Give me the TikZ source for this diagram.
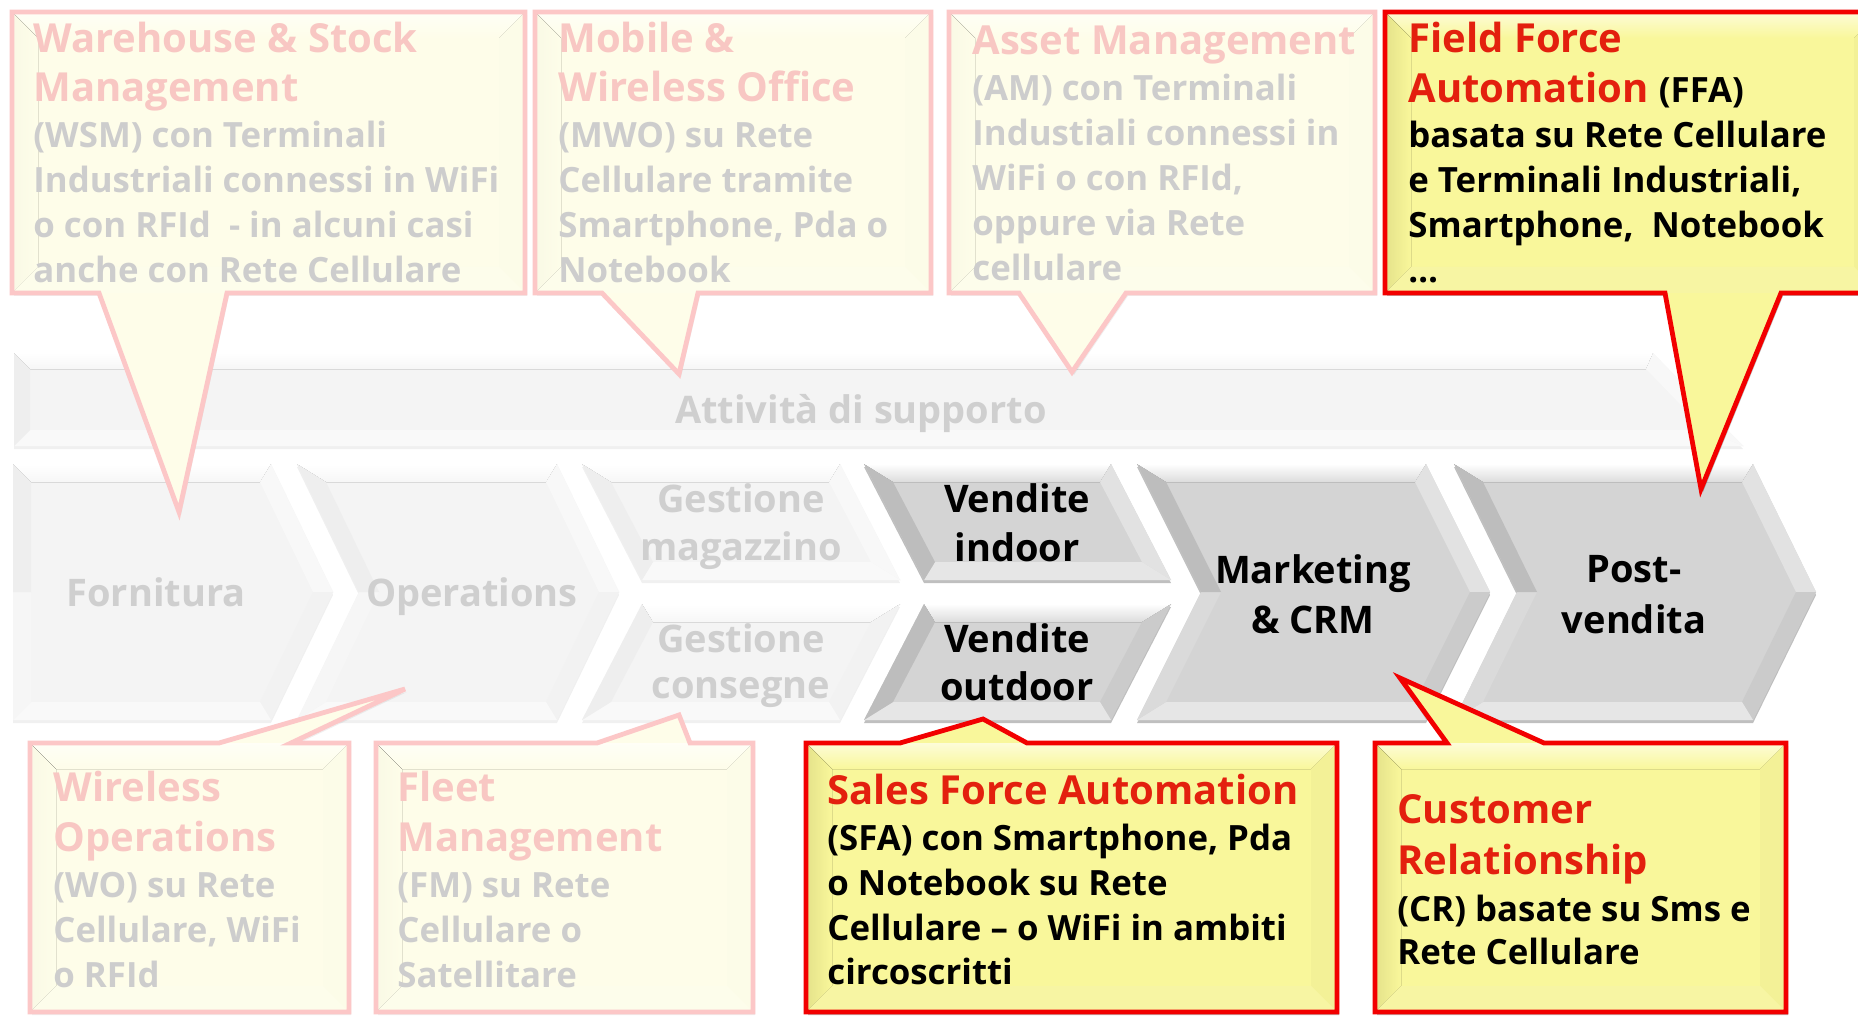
\documentclass[tikz,border=0pt]{standalone}
\usepackage{fontspec}
\setmainfont{Open Sans}
\usetikzlibrary{calc}
\newcommand\bodyf{\fontsize{17.4}{20}\selectfont\bfseries}
\newcommand\ttlf{\fontsize{20}{24}\selectfont\bfseries}
\newcommand\chf{\fontsize{19}{24}\selectfont\bfseries}
% chevron palette (strong)
\definecolor{sBase}{HTML}{D4D4D4}
\definecolor{sTop}{HTML}{DCDCDC}
\definecolor{sUL}{HTML}{BDBDBD}
\definecolor{sLL}{HTML}{DADADA}
\definecolor{sUR}{HTML}{E2E2E2}
\definecolor{sLR}{HTML}{CBCBCB}
\definecolor{sBot}{HTML}{E6E6E6}
% faded chevron palette
\colorlet{fBase}{sBase!25!white}
\colorlet{fTop}{sTop!25!white}
\colorlet{fUL}{sUL!25!white}
\colorlet{fLL}{sLL!25!white}
\colorlet{fUR}{sUR!25!white}
\colorlet{fLR}{sLR!25!white}
\colorlet{fBot}{sBot!25!white}
\definecolor{fChTxt}{HTML}{CFCFCF}
% callout palette
\definecolor{sYel}{HTML}{F9F79B}
\definecolor{sYelL}{HTML}{FDFCD8}
\definecolor{sYelD}{HTML}{E4E28A}
\definecolor{sYelR}{HTML}{F3F197}
\definecolor{sYelB}{HTML}{F7F5A3}
\definecolor{sBord}{HTML}{F20000}
\definecolor{sTtl}{HTML}{E3200E}
\colorlet{fYel}{sYel!22!white}
\colorlet{fYelL}{sYelL!22!white}
\colorlet{fYelD}{sYelD!22!white}
\colorlet{fYelR}{sYelR!22!white}
\colorlet{fYelB}{sYelB!22!white}
\colorlet{fBord}{sBord!22!white}
\colorlet{fTtl}{sTtl!25!white}
\definecolor{fBody}{HTML}{CDCDCD}
\tikzset{
  sT/.style={text=sTtl,font=\ttlf},
  sB/.style={text=black,font=\bodyf},
  fT/.style={text=fTtl,font=\ttlf},
  fB/.style={text=fBody,font=\bodyf},
  chS/.style={text=black,font=\chf,anchor=base,inner sep=0pt},
  chF/.style={text=fChTxt,font=\chf,anchor=base,inner sep=0pt},
  sShadow/.style={fill=black,opacity=.25},
  fShadow/.style={fill=black,opacity=.06},
}
\newcommand\txl[5]{\node[#4,anchor=base west,inner sep=0pt] (#1) at (#2,#3) {#5};}
% full chevron / home plate: name, L, N, R, P, palette
\newcommand\chev[6]{%
  \pgfmathsetmacro\cTi{#2+18+11*(#3>#2)}%
  \pgfmathsetmacro\cNi{#3+18+2*(#3>#2)}%
  \pgfmathsetmacro\cRi{#4-11}%
  \pgfmathsetmacro\cPi{#5-20}%
  \path (#2,464) coordinate (#1-tl) (#4,464) coordinate (#1-tr) (#5,592) coordinate (#1-p)
        (#4,720) coordinate (#1-br) (#2,720) coordinate (#1-bl) (#3,592) coordinate (#1-n)
        (\cTi,482) coordinate (#1-tli) (\cRi,482) coordinate (#1-tri) (\cPi,592) coordinate (#1-pi)
        (\cRi,702) coordinate (#1-bri) (\cTi,702) coordinate (#1-bli) (\cNi,592) coordinate (#1-ni);
  \fill[#6Shadow,transform canvas={yshift=-1.5pt}] (#1-tl)--(#1-tr)--(#1-p)--(#1-br)--(#1-bl)--(#1-n)--cycle;
  \fill[#6Base] (#1-tl)--(#1-tr)--(#1-p)--(#1-br)--(#1-bl)--(#1-n)--cycle;
  \fill[top color=white,bottom color=#6Top] (#1-tl)--(#1-tr)--(#1-tri)--(#1-tli)--cycle;
  \fill[#6UR] (#1-tr)--(#1-p)--(#1-pi)--(#1-tri)--cycle;
  \fill[#6LR] (#1-p)--(#1-br)--(#1-bri)--(#1-pi)--cycle;
  \fill[#6Bot] (#1-br)--(#1-bl)--(#1-bli)--(#1-bri)--cycle;
  \fill[#6LL] (#1-bl)--(#1-n)--(#1-ni)--(#1-bli)--cycle;
  \fill[#6UL] (#1-n)--(#1-tl)--(#1-tli)--(#1-ni)--cycle;
}
% upper half chevron: name, L, R, palette
\newcommand\upchev[4]{%
  \path (#2,464) coordinate (#1-tl) (#3,464) coordinate (#1-tr) ({#3+60},580) coordinate (#1-br) ({#2+60},580) coordinate (#1-bl)
        ({#2+29},482) coordinate (#1-tli) ({#3-11},482) coordinate (#1-tri) ({#3+31},562) coordinate (#1-bri) ({#2+71},562) coordinate (#1-bli);
  \fill[#4Shadow,transform canvas={yshift=-1.5pt}] (#1-tl)--(#1-tr)--(#1-br)--(#1-bl)--cycle;
  \fill[#4Base] (#1-tl)--(#1-tr)--(#1-br)--(#1-bl)--cycle;
  \fill[top color=white,bottom color=#4Top] (#1-tl)--(#1-tr)--(#1-tri)--(#1-tli)--cycle;
  \fill[#4UR] (#1-tr)--(#1-br)--(#1-bri)--(#1-tri)--cycle;
  \fill[#4Bot] (#1-br)--(#1-bl)--(#1-bli)--(#1-bri)--cycle;
  \fill[#4UL] (#1-bl)--(#1-tl)--(#1-tli)--(#1-bli)--cycle;
}
% lower half chevron: name, L, R, palette
\newcommand\lochev[4]{%
  \path ({#2+60},604) coordinate (#1-tl) ({#3+60},604) coordinate (#1-tr) (#3,720) coordinate (#1-br) (#2,720) coordinate (#1-bl)
        ({#2+71},622) coordinate (#1-tli) ({#3+31},622) coordinate (#1-tri) ({#3-11},702) coordinate (#1-bri) ({#2+29},702) coordinate (#1-bli);
  \fill[#4Shadow,transform canvas={yshift=-1.5pt}] (#1-tl)--(#1-tr)--(#1-br)--(#1-bl)--cycle;
  \fill[#4Base] (#1-tl)--(#1-tr)--(#1-br)--(#1-bl)--cycle;
  \fill[top color=white,bottom color=#4Top] (#1-tl)--(#1-tr)--(#1-tri)--(#1-tli)--cycle;
  \fill[#4LR] (#1-tr)--(#1-br)--(#1-bri)--(#1-tri)--cycle;
  \fill[#4Bot] (#1-br)--(#1-bl)--(#1-bli)--(#1-bri)--cycle;
  \fill[#4UL] (#1-bl)--(#1-tl)--(#1-tli)--(#1-bli)--cycle;
}
% callout: palette, x1, y1, x2, y2, outline path
\newcommand\callout[6]{%
  \fill[#1Shadow,transform canvas={xshift=1pt,yshift=-1.5pt}] #6;
  \fill[#1Yel] #6;
  \fill[top color=#1YelL,bottom color=#1Yel] (#2,#3)--(#4,#3)--({#4-26},{#3+26})--({#2+26},{#3+26})--cycle;
  \fill[left color=#1YelD,right color=#1Yel] (#2,#3)--({#2+26},{#3+26})--({#2+26},{#5-26})--(#2,#5)--cycle;
  \fill[#1YelR] (#4,#3)--(#4,#5)--({#4-26},{#5-26})--({#4-26},{#3+26})--cycle;
  \fill[#1YelB] (#2,#5)--(#4,#5)--({#4-26},{#5-26})--({#2+26},{#5-26})--cycle;
  \draw[#1Bord,line width=2.4pt,line join=miter] #6;
}
\begin{document}
\begin{tikzpicture}[x=0.5pt,y=-0.5pt]
\useasboundingbox (0,0) rectangle (1858,1016);
\clip (0,0) rectangle (1858,1016);
\fill[white] (0,0) rectangle (1858,1016);

% ---- support band
\path (14,353) coordinate (sb-tl) (1653,353) coordinate (sb-tr) (1743,446) coordinate (sb-br) (14,446) coordinate (sb-bl)
      (30,369) coordinate (sb-tli) (1646,369) coordinate (sb-tri) (1705,430) coordinate (sb-bri) (30,430) coordinate (sb-bli);
\fill[fShadow,transform canvas={yshift=-1.5pt}] (sb-tl)--(sb-tr)--(sb-br)--(sb-bl)--cycle;
\fill[fBase] (sb-tl)--(sb-tr)--(sb-br)--(sb-bl)--cycle;
\fill[top color=white,bottom color=fTop] (sb-tl)--(sb-tr)--(sb-tri)--(sb-tli)--cycle;
\fill[fUR] (sb-tr)--(sb-br)--(sb-bri)--(sb-tri)--cycle;
\fill[fBot] (sb-br)--(sb-bl)--(sb-bli)--(sb-bri)--cycle;
\fill[fUL] (sb-bl)--(sb-tl)--(sb-tli)--(sb-bli)--cycle;
\node[chF] (supp) at (861,423) {Attività di supporto};

% ---- chevrons
\chev{forn}{13}{13}{271}{333}{f}
\chev{oper}{297}{359}{557}{619}{f}
\upchev{gmag}{582}{840}{f}
\lochev{gcon}{582}{840}{f}
\upchev{vind}{864}{1111}{s}
\lochev{vout}{864}{1111}{s}
\chev{mkt}{1137}{1201}{1426}{1490}{s}
\chev{post}{1454}{1517}{1753}{1816}{s}

\node[chF] (forn-l) at (156,606) {Fornitura};
\node[chF] (oper-l) at (472,606) {Operations};
\node[chF] (gmag-l1) at (741,512) {Gestione};
\node[chF] (gmag-l2) at (741,560) {magazzino};
\node[chF] (gcon-l1) at (741,652) {Gestione};
\node[chF] (gcon-l2) at (741,698) {consegne};
\node[chS] (vind-l1) at (1017,512) {Vendite};
\node[chS] (vind-l2) at (1017,561) {indoor};
\node[chS] (vout-l1) at (1017,652) {Vendite};
\node[chS] (vout-l2) at (1017,700) {outdoor};
\node[chS] (mkt-l1) at (1313,583) {Marketing};
\node[chS] (mkt-l2) at (1313,633) {\& CRM};
\node[chS] (post-l1) at (1634,582) {Post-};
\node[chS] (post-l2) at (1634,633) {vendita};

% ---- faded callouts
\callout{f}{12}{12}{525}{293}{(12,12)--(525,12)--(525,293)--(227,293)--(179,512)--(99,293)--(12,293)--cycle}
\txl{wsm-t1}{33}{53}{fT}{Warehouse \& Stock}
\txl{wsm-t2}{33}{102}{fT}{Management}
\txl{wsm-b1}{33}{148}{fB}{(WSM) con Terminali}
\txl{wsm-b2}{33}{193}{fB}{Industriali connessi in WiFi}
\txl{wsm-b3}{33}{238}{fB}{o con RFId\ \ - in alcuni casi}
\txl{wsm-b4}{33}{283}{fB}{anche con Rete Cellulare}

\callout{f}{535}{12}{931}{293}{(535,12)--(931,12)--(931,293)--(698,293)--(679,374)--(602,293)--(535,293)--cycle}
\txl{mwo-t1}{558}{53}{fT}{Mobile \&}
\txl{mwo-t2}{558}{102}{fT}{Wireless Office}
\txl{mwo-b1}{558}{148}{fB}{(MWO) su Rete}
\txl{mwo-b2}{558}{193}{fB}{Cellulare tramite}
\txl{mwo-b3}{558}{238}{fB}{Smartphone, Pda o}
\txl{mwo-b4}{558}{283}{fB}{Notebook}

\callout{f}{949}{12}{1375}{293}{(949,12)--(1375,12)--(1375,293)--(1126,293)--(1072,372)--(1019,293)--(949,293)--cycle}
\txl{am-t1}{972}{55}{fT}{Asset Management}
\txl{am-b1}{972}{101}{fB}{(AM) con Terminali}
\txl{am-b2}{972}{146}{fB}{Industiali connessi in}
\txl{am-b3}{972}{191}{fB}{WiFi o con RFId,}
\txl{am-b4}{972}{236}{fB}{oppure via Rete}
\txl{am-b5}{972}{281}{fB}{cellulare}

\callout{f}{30}{743}{349}{1012}{(30,743)--(219,743)--(405,689)--(291,743)--(349,743)--(349,1012)--(30,1012)--cycle}
\txl{wo-t1}{53}{801}{fT}{Wireless}
\txl{wo-t2}{53}{851}{fT}{Operations}
\txl{wo-b1}{53}{897}{fB}{(WO) su Rete}
\txl{wo-b2}{53}{942}{fB}{Cellulare, WiFi}
\txl{wo-b3}{53}{987}{fB}{o RFId}

\callout{f}{376}{743}{753}{1012}{(376,743)--(597,743)--(679,715)--(690,743)--(753,743)--(753,1012)--(376,1012)--cycle}
\txl{fm-t1}{397}{801}{fT}{Fleet}
\txl{fm-t2}{397}{851}{fT}{Management}
\txl{fm-b1}{397}{897}{fB}{(FM) su Rete}
\txl{fm-b2}{397}{942}{fB}{Cellulare o}
\txl{fm-b3}{397}{987}{fB}{Satellitare}

% ---- strong callouts
\callout{s}{1385}{12}{1880}{293}{(1385,12)--(1880,12)--(1880,293)--(1781,293)--(1701,489)--(1665,293)--(1385,293)--cycle}
\txl{ffa-t1}{1408}{53}{sT}{Field Force}
\txl{ffa-t2}{1408}{103}{sT}{Automation {\bodyf\color{black}(FFA)}}
\txl{ffa-b1}{1408}{148}{sB}{basata su Rete Cellulare}
\txl{ffa-b2}{1408}{193}{sB}{e Terminali Industriali,}
\txl{ffa-b3}{1408}{238}{sB}{Smartphone,\ \ Notebook}
\txl{ffa-b4}{1408}{283}{sB}{…}

\callout{s}{806}{743}{1337}{1012}{(806,743)--(900,743)--(983,719)--(1027,743)--(1337,743)--(1337,1012)--(806,1012)--cycle}
\txl{sfa-t1}{827}{804}{sT}{Sales Force Automation}
\txl{sfa-b1}{827}{850}{sB}{(SFA) con Smartphone, Pda}
\txl{sfa-b2}{827}{895}{sB}{o Notebook su Rete}
\txl{sfa-b3}{827}{940}{sB}{Cellulare – o WiFi in ambiti}
\txl{sfa-b4}{827}{984}{sB}{circoscritti}

\callout{s}{1375}{743}{1786}{1012}{(1375,743)--(1447,743)--(1400,678)--(1544,743)--(1786,743)--(1786,1012)--(1375,1012)--cycle}
\txl{cr-t1}{1397}{823}{sT}{Customer}
\txl{cr-t2}{1397}{874}{sT}{Relationship}
\txl{cr-b1}{1397}{921}{sB}{(CR) basate su Sms e}
\txl{cr-b2}{1397}{964}{sB}{Rete Cellulare}
\end{tikzpicture}
\end{document}
